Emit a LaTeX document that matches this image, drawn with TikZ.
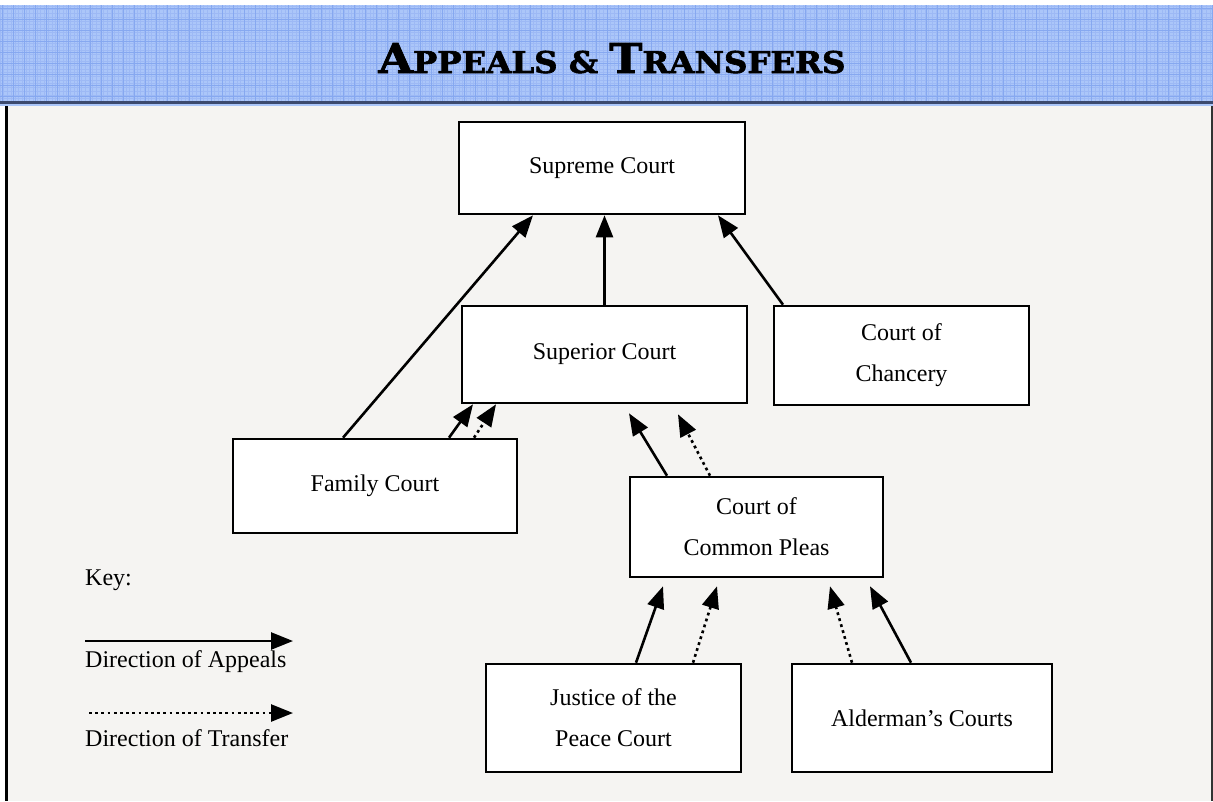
\documentclass[tikz,border=0pt]{standalone}
\usepackage{fontspec}
\setmainfont{Liberation Serif}
\newfontfamily\titlefont{DejaVu Serif}[BoldFeatures={FakeBold=2}]
\usetikzlibrary{arrows.meta,calc}
\definecolor{hdrblue}{HTML}{ABC6F9}
\definecolor{gridmajor}{HTML}{86A8F0}
\definecolor{gridminor}{HTML}{9DB9F5}
\definecolor{panelbg}{HTML}{F5F4F2}
\definecolor{hdrline}{HTML}{3C4A6E}
\begin{document}
\begin{tikzpicture}[x=1pt,y=-1pt,
  court/.style={draw=black,fill=white,line width=2.6pt,align=center,
    font=\fontsize{24}{41}\selectfont,inner sep=0pt},
  appeal/.style={line width=2.6pt,-{Triangle[length=22pt,width=17pt]}},
  transfer/.style={line width=2.6pt,dash pattern=on 2.8pt off 3.4pt,
    -{Triangle[length=22pt,width=17pt]}},
  keytext/.style={font=\fontsize{24}{41}\selectfont,anchor=west,inner sep=0pt},
  minorgrid/.style={gridminor,line width=0.5pt},
  majorgrid/.style={gridmajor,line width=0.9pt}
]
\useasboundingbox (0,0) rectangle (1213,801);
\fill[white] (0,0) rectangle (1213,801);
% header band
\fill[hdrblue] (0,5) rectangle (1213,106);
\foreach \i in {0,3.7,...,1213} \draw[minorgrid] (\i,5) -- (\i,102);
\foreach \j in {6,9.7,...,102} \draw[minorgrid] (0,\j) -- (1213,\j);
\foreach \i in {2,13,...,1213} \draw[majorgrid] (\i,5) -- (\i,102);
\foreach \j in {8,19,...,102} \draw[majorgrid] (0,\j) -- (1213,\j);
\draw[hdrline,line width=2.5pt] (0,102.5) -- (1213,102.5);
% panel
\fill[panelbg] (5,106) rectangle (1213,801);
\draw[black,line width=3pt] (6.5,106) -- (6.5,801);
\draw[black!80,line width=2pt] (1211.5,106) -- (1211.5,801);
% title
\node[inner sep=0pt,anchor=base] (title) at (612,73)
  {\titlefont\bfseries\scalebox{1.08}[1]{\fontsize{41}{41}\selectfont A\fontsize{30}{30}\selectfont PPEALS
   \& \fontsize{41}{41}\selectfont T\fontsize{30}{30}\selectfont RANSFERS}};
% courts
\node[court,minimum width=286pt,minimum height=92pt] (sup) at (602,168) {Supreme Court};
\node[court,minimum width=285pt,minimum height=97pt] (spr) at (604.5,354.5) {Superior Court};
\node[court,minimum width=255pt,minimum height=99pt] (cha) at (901.5,355.5) {Court of\\Chancery};
\node[court,minimum width=284pt,minimum height=94pt] (fam) at (375,486) {Family Court};
\node[court,minimum width=253pt,minimum height=100pt] (ccp) at (756.5,527) {Court of\\Common Pleas};
\node[court,minimum width=255pt,minimum height=108pt] (jp) at (613.5,718) {Justice of the\\Peace Court};
\node[court,minimum width=260pt,minimum height=108pt] (ald) at (922,718) {Alderman’s Courts};
% appeals and transfers
\draw[appeal] ([xshift=-32pt]fam.north) -- ([xshift=-69pt]sup.south);
\draw[appeal] (spr.north) -- (spr.north |- sup.south);
\draw[appeal] ([xshift=-118.5pt]cha.north) -- ([xshift=116pt]sup.south);
\draw[appeal] ([xshift=74pt]fam.north) -- ([xshift=-131.5pt]spr.south);
\draw[transfer] ([xshift=99pt]fam.north) -- ([xshift=-108.5pt]spr.south);
\draw[appeal] ([xshift=-89.5pt]ccp.north) -- ([xshift=24.5pt,yshift=-9pt]spr.south);
\draw[transfer] ([xshift=-46.5pt]ccp.north) -- ([xshift=73.5pt,yshift=-10pt]spr.south);
\draw[appeal] ([xshift=22.5pt]jp.north) -- ([xshift=-93.5pt,yshift=-8pt]ccp.south);
\draw[transfer] ([xshift=79.5pt]jp.north) -- ([xshift=-39.5pt,yshift=-8pt]ccp.south);
\draw[transfer] ([xshift=-70pt]ald.north) -- ([xshift=73.5pt,yshift=-8pt]ccp.south);
\draw[appeal] ([xshift=-11pt]ald.north) -- ([xshift=113.5pt,yshift=-8pt]ccp.south);
% key
\node[keytext] (key) at (85,580) {Key:};
\coordinate (k1s) at (85,641);
\coordinate (k1e) at (293,641);
\draw[appeal] (k1s) -- (k1e);
\node[keytext] (kapp) at (85,662) {Direction of Appeals};
\coordinate (k2s) at (89,713);
\coordinate (k2e) at (293,713);
\draw[transfer] (k2s) -- (k2e);
\node[keytext] (ktr) at (85,738) {Direction of Transfer};
\end{tikzpicture}
\end{document}
